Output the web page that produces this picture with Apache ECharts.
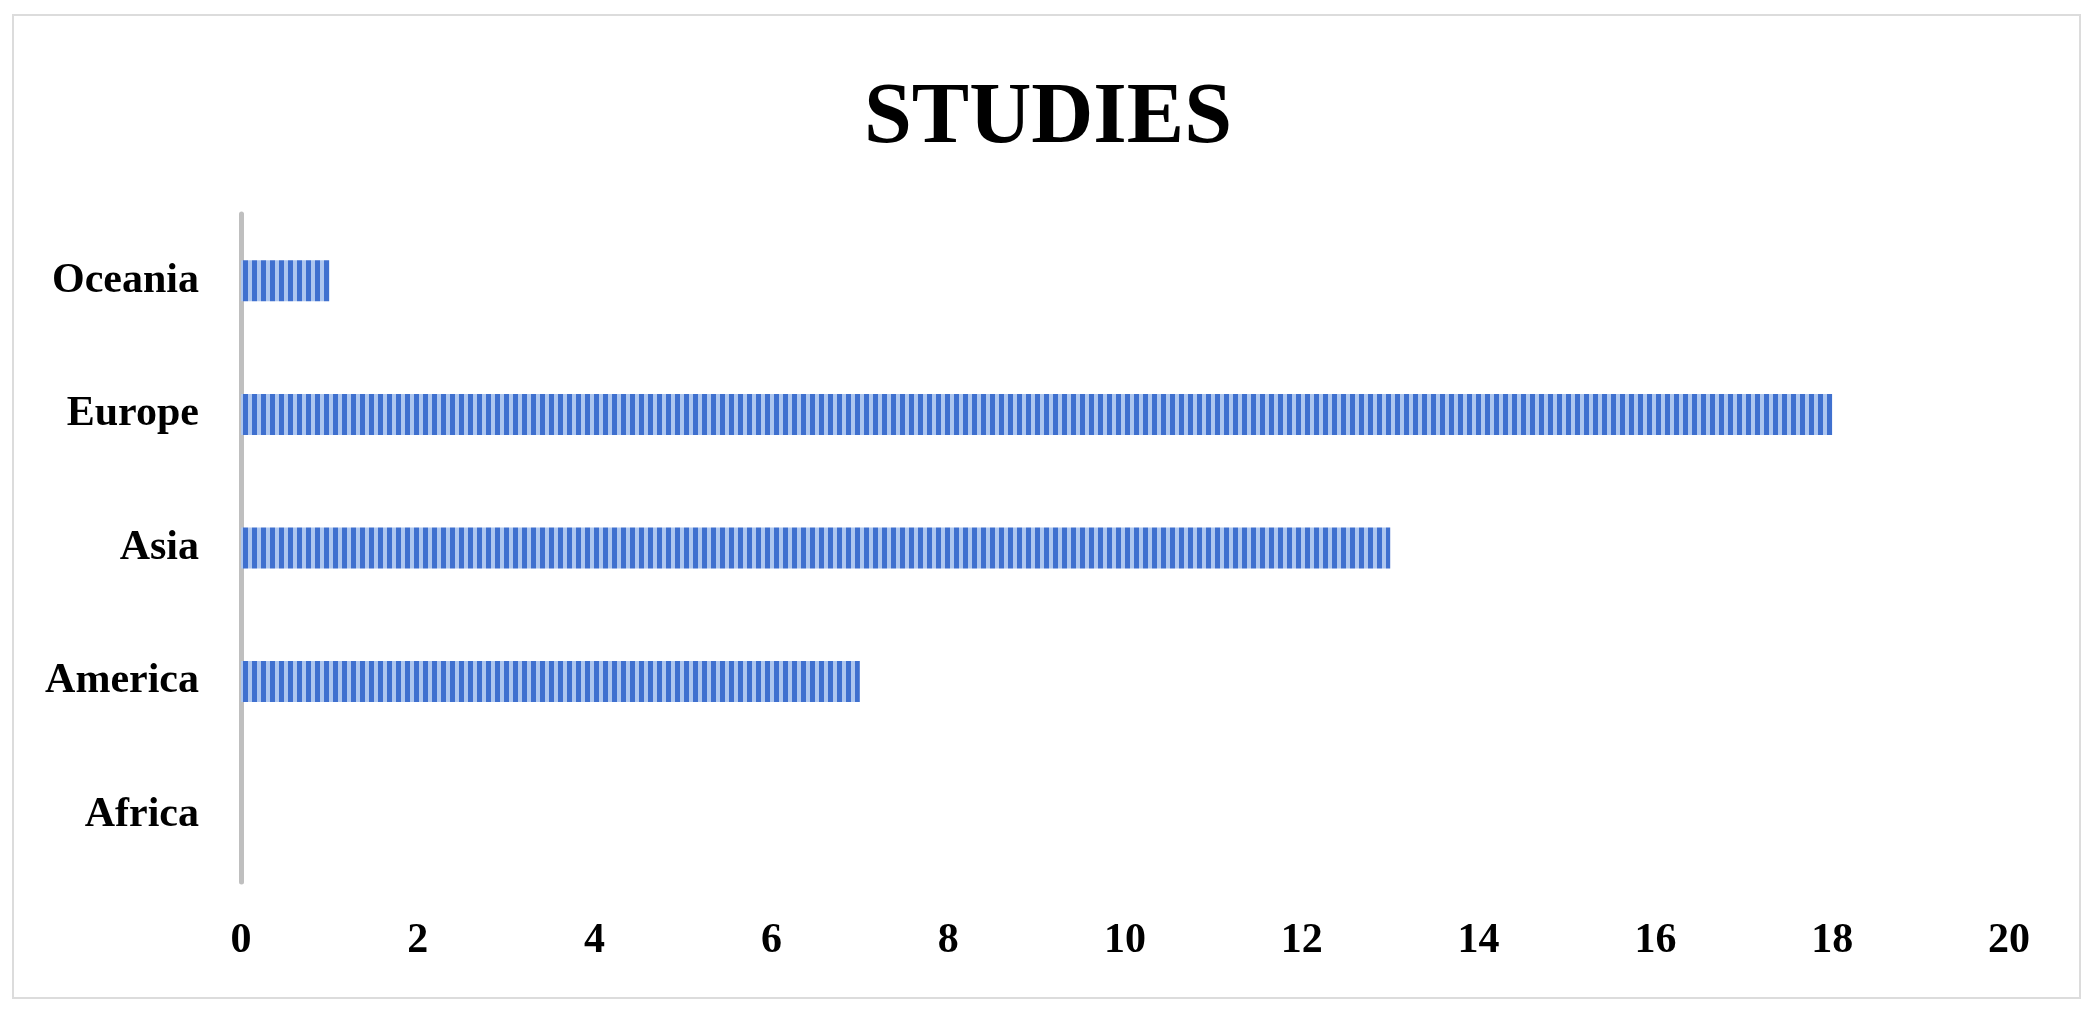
<!DOCTYPE html>
<html>
<head>
<meta charset="utf-8">
<script src="https://cdn.jsdelivr.net/npm/echarts@6/dist/echarts.min.js"></script>
<style>
  html, body { margin: 0; padding: 0; background: #fff; }
  #chart { width: 2096px; height: 1020px; }
</style>
</head>
<body>
<div id="chart"></div>
<script>
// data
var regions = ['Africa', 'America', 'Asia', 'Europe', 'Oceania'];
var studies = [0, 7, 13, 18, 1];
var xMin = 0;
var xMax = 20;
var xStep = 2;

// striped fill for the bars
function stripes() {
    var c = document.createElement('canvas');
    c.width = 9;
    c.height = 4;
    var ctx = c.getContext('2d');
    ctx.fillStyle = '#adc6ef';
    ctx.fillRect(0, 0, 9, 4);
    ctx.fillStyle = '#3f70cf';
    ctx.fillRect(0, 0, 5, 4);
    return c;
}

var myChart = echarts.init(document.getElementById('chart'));
var serif = '"Liberation Serif", "DejaVu Serif", serif';

var option = {
    backgroundColor: '#fff',
    animation: false,
    title: {
        text: 'STUDIES',
        left: 'center',
        top: 72,
        textStyle: {
            fontFamily: serif,
            fontWeight: 'bold',
            fontSize: 86,
            color: '#000'
        }
    },
    graphic: [
        {
            type: 'rect',
            shape: { x: 13, y: 15, width: 2067, height: 983 },
            style: { fill: null, stroke: '#dcdcdc', lineWidth: 2 },
            silent: true
        }
    ],
    grid: {
        left: 241,
        right: 87,
        top: 214,
        bottom: 138
    },
    xAxis: {
        type: 'value',
        min: xMin,
        max: xMax,
        interval: xStep,
        axisLine: { show: false },
        axisTick: { show: false },
        splitLine: { show: false },
        axisLabel: {
            margin: 38,
            color: '#000',
            fontFamily: serif,
            fontWeight: 'bold',
            fontSize: 42
        }
    },
    yAxis: {
        type: 'category',
        data: regions,
        axisLine: {
            show: true,
            lineStyle: { color: '#bfbfbf', width: 5 }
        },
        axisTick: { show: false },
        axisLabel: {
            margin: 42,
            color: '#000',
            fontFamily: serif,
            fontWeight: 'bold',
            fontSize: 42
        }
    },
    series: [
        {
            name: 'Studies',
            type: 'bar',
            data: studies,
            barWidth: 41,
            itemStyle: {
                color: { image: stripes(), repeat: 'repeat' }
            }
        }
    ]
};
option && myChart.setOption(option);
</script>
</body>
</html>
